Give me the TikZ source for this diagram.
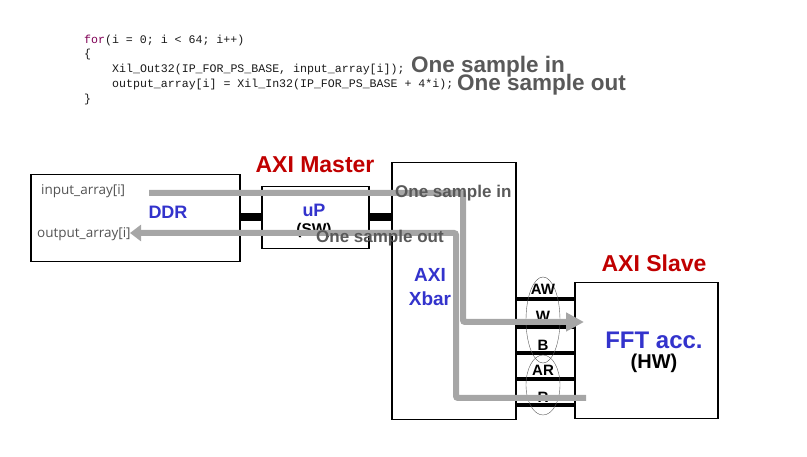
\documentclass[tikz,border=0pt]{standalone}
\usepackage{fontspec}
\setmainfont{Liberation Sans}
\newfontfamily\codefont{Liberation Mono}
\newfontfamily\uifont{Open Sans}
\usetikzlibrary{arrows.meta}
\definecolor{axired}{HTML}{C00000}
\definecolor{accblue}{HTML}{3333CC}
\definecolor{pathgray}{HTML}{A6A6A6}
\definecolor{notegray}{HTML}{595959}
\definecolor{kwpurple}{HTML}{7F0055}
\newcommand{\fsz}[1]{\fontsize{#1}{#1}\selectfont}
\tikzset{
  box/.style={draw=black, line width=1.5pt, inner sep=0pt, anchor=north west},
  link/.style={line width=8pt},
  bus/.style={line width=3.5pt},
  flow/.style={pathgray, line width=6pt, rounded corners=2pt},
  codeline/.style={anchor=west, inner sep=0pt, text=black!90, font=\codefont\fsz{11.6}},
  title/.style={axired, inner sep=0pt, font=\bfseries\fsz{23}},
  blk/.style={accblue, inner sep=0pt, font=\bfseries\fsz{#1}},
  sub/.style={black, inner sep=0pt, font=\bfseries\fsz{#1}},
  note/.style={notegray, anchor=west, inner sep=0pt, font=\bfseries\fsz{#1}},
  buslbl/.style={inner sep=0pt, font=\bfseries\fsz{15}},
  arr/.style={gray!65!black, anchor=west, inner sep=0pt, font=\uifont\fsz{13.5}},
}
\begin{document}
\begin{tikzpicture}[x=1pt, y=-1pt]
\useasboundingbox (0,0) rectangle (807,457);

% code snippet
\node[codeline] (c1) at (84,41) {\textcolor{kwpurple}{for}(i = 0; i < 64; i++)};
\node[codeline] (c2) at (84,55) {\{};
\node[codeline] (c3) at (112,70) {Xil\_Out32(IP\_FOR\_PS\_BASE, input\_array[i]);};
\node[codeline] (c4) at (112,85) {output\_array[i] = Xil\_In32(IP\_FOR\_PS\_BASE + 4*i);};
\node[codeline] (c5) at (84,100) {\}};
\node[note=22.5] (n1) at (411,67) {One sample in};
\node[note=22.5] (n2) at (457,85) {One sample out};

% blocks
\node[box, minimum width=209pt, minimum height=87pt] (ddr) at (30,174) {};
\node[box, minimum width=107pt, minimum height=62pt] (up) at (261,186) {};
\node[box, minimum width=124pt, minimum height=257pt] (xbar) at (391,162) {};
\node[box, minimum width=143pt, minimum height=136pt] (fft) at (574,282) {};

\draw[link] (ddr.east |- 0,217) -- (up.west |- 0,217);
\draw[link] (up.east |- 0,217) -- (xbar.west |- 0,217);

% AXI channels
\foreach \y in {299,327,353,379,405}
  \draw[bus] (xbar.east |- 0,\y) -- (fft.west |- 0,\y);
\draw[gray!70!black, thin] (543,320) ellipse [x radius=17pt, y radius=43pt];
\draw[gray!70!black, thin] (543,385) ellipse [x radius=17pt, y radius=30pt];
\node[buslbl] (aw) at (543,289) {AW};
\node[buslbl] (w) at (543,316) {W};
\node[buslbl] (b) at (543,345) {B};
\node[buslbl] (ar) at (543,370) {AR};
\node[buslbl] (r) at (543,397) {R};

% labels
\node[title] (mst) at (315,165) {AXI Master};
\node[title] (slv) at (654,263) {AXI Slave};
\node[blk=18] (ddrlbl) at (168,212) {DDR};
\node[blk=18] (uplbl) at (314,210) {uP};
\node[sub=15.5] (swlbl) at (314,230) {(SW)};
\node[blk=19] (axilbl) at (430,275) {AXI};
\node[blk=19] (xbarlbl) at (430,299) {Xbar};
\node[blk=24] (fftlbl) at (654,340) {FFT acc.};
\node[sub=20] (hwlbl) at (654,363) {(HW)};
\node[arr] (inarr) at (41,191) {input\_array[i]};
\node[arr] (outarr) at (37,234) {output\_array[i]};

% data flow
\coordinate (inStart) at (149,193);
\coordinate (inTip) at (584,322);
\coordinate (outStart) at (586,398);
\coordinate (outTip) at (130,233);
\draw[flow, -{Triangle[length=18pt,width=18pt]}] (inStart) -- (463,193) |- (inTip);
\draw[flow, -{Triangle[length=11pt,width=16pt]}] (outStart) -- (456,398) |- (outTip);
\node[note=17] (s1) at (395,193) {One sample in};
\node[note=17] (s2) at (316,238) {One sample out};
\end{tikzpicture}
\end{document}
